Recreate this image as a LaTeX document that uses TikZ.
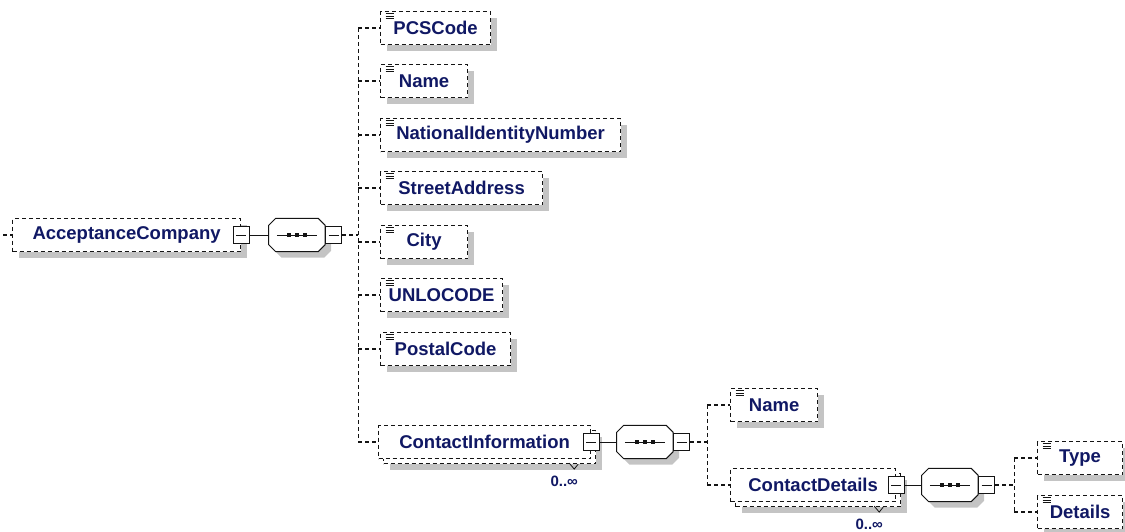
\documentclass[tikz,border=0pt]{standalone}
\usepackage{fontspec}
\setmainfont{Liberation Sans}
\usepackage{tikz}
\usetikzlibrary{shadows, positioning, calc}
\definecolor{mynavy}{RGB}{16,24,100}
\definecolor{myshade}{RGB}{196,196,196}
\definecolor{mydark}{RGB}{20,20,20}
\tikzset{
  elembox/.style={rectangle, draw=mydark, fill=white, line width=1.2pt,
    dash pattern=on 4pt off 3pt, minimum height=33pt, inner sep=0pt,
    text=mynavy, font=\fontsize{18.5}{20}\selectfont\bfseries, anchor=west,
    general shadow={shadow xshift=6pt, shadow yshift=-6pt, fill=myshade}},
  simpleelem/.style={elembox, path picture={
    \foreach \k in {2,4.5,7}
      \draw[solid, line width=0.8pt, mydark] ([xshift=5pt, yshift=-\k pt]path picture bounding box.north west) -- ++(8pt,0pt);}},
  multielem/.style={rectangle, draw=mydark, fill=white, line width=1.2pt,
    dash pattern=on 4pt off 3pt, minimum height=33pt, inner sep=0pt,
    text=mynavy, font=\fontsize{18.5}{20}\selectfont\bfseries, anchor=west,
    general shadow={shadow xshift=11pt, shadow yshift=-11pt, fill=myshade},
    general shadow={shadow xshift=5pt, shadow yshift=-5pt, fill=white,
      draw=mydark, line width=1.2pt, dash pattern=on 4pt off 3pt}},
  minusbox/.style={rectangle, draw=mydark, fill=white, line width=1pt,
    minimum width=16pt, minimum height=17pt, inner sep=0pt, path picture={
    \draw[line width=1pt, mydark] ([xshift=3pt]path picture bounding box.west) -- ([xshift=-3pt]path picture bounding box.east);}},
  seqnode/.style={rectangle, minimum width=56pt, minimum height=33pt, inner sep=0pt},
  seqline/.style={draw=mydark, fill=white, line width=1pt},
  link/.style={line width=1.1pt, color=mydark, dash pattern=on 4pt off 3pt},
  solidlink/.style={line width=1pt, color=mydark},
  occlabel/.style={text=mynavy, font=\fontsize{15}{17}\selectfont\bfseries, inner sep=0pt, anchor=north},
  occtick/.style={line width=0.8pt, color=mydark}
}
% octagon of a sequence compositor, drawn round the node #1
\newcommand{\seqoctagon}[1]{%
  \fill[myshade, transform canvas={shift={(6pt,-6pt)}}] ([xshift=7pt]#1.north west) -- ([xshift=-7pt]#1.north east) -- ([yshift=-7pt]#1.north east) -- ([yshift=7pt]#1.south east) -- ([xshift=-7pt]#1.south east) -- ([xshift=7pt]#1.south west) -- ([yshift=7pt]#1.south west) -- ([yshift=-7pt]#1.north west) -- cycle;
  \path[seqline] ([xshift=7pt]#1.north west) -- ([xshift=-7pt]#1.north east) -- ([yshift=-7pt]#1.north east) -- ([yshift=7pt]#1.south east) -- ([xshift=-7pt]#1.south east) -- ([xshift=7pt]#1.south west) -- ([yshift=7pt]#1.south west) -- ([yshift=-7pt]#1.north west) -- cycle;
  \draw[line width=1pt, mydark] ([xshift=-20pt]#1.center) -- ([xshift=20pt]#1.center);
  \foreach \d in {-8,0,8}
    \fill[mydark] ([xshift=\d pt]#1.center) +(-2pt,-2pt) rectangle +(2pt,2pt);
}

\begin{document}
\begin{tikzpicture}[x=1pt, y=-1pt]
  \useasboundingbox (0,0) rectangle (1125,531);

  % Root element
  \coordinate (root) at (3,235);
  \node[elembox, minimum width=228pt] (ac) at (12,235) {AcceptanceCompany};
  \draw[link] (root) -- (ac.west);
  \node[minusbox] (mA) at (ac.east) {};
  \node[seqnode, right=19pt of mA] (sqA) {};
  \seqoctagon{sqA}
  \node[minusbox, right=0pt of sqA] (mB) {};
  \coordinate[right=16pt of mB] (trA);
  \draw[solidlink] (mA) -- (sqA);
  \draw[link] (mB.east) -- (trA);

  % Children of the sequence
  \node[simpleelem, minimum width=110pt] (pcs) at (380,28) {PCSCode};
  \node[simpleelem, minimum width=87pt] (name) at (380,81) {Name};
  \node[simpleelem, minimum width=240pt] (nid) at (380,135) {NationalIdentityNumber};
  \node[simpleelem, minimum width=162pt] (street) at (380,188) {StreetAddress};
  \node[simpleelem, minimum width=87pt] (city) at (380,242) {City};
  \node[simpleelem, minimum width=122pt] (unlo) at (380,295) {UNLOCODE};
  \node[simpleelem, minimum width=130pt] (postal) at (380,349) {PostalCode};
  \node[multielem, minimum width=212pt] (ci) at (378,442) {ContactInformation};

  \draw[link] (trA |- pcs.west) -- (trA |- ci.west);
  \foreach \n in {pcs,name,nid,street,city,unlo,postal,ci}
    \draw[link] (trA |- \n.west) -- (\n.west);

  % ContactInformation content
  \node[minusbox] (mC) at (ci.east) {};
  \node[seqnode, right=17pt of mC] (sqB) {};
  \seqoctagon{sqB}
  \node[minusbox, right=0pt of sqB] (mD) {};
  \coordinate[right=17pt of mD] (trB);
  \draw[solidlink] (mC) -- (sqB);
  \draw[link] (mD.east) -- (trB);
  \node[occlabel] (occA) at ([xshift=-27pt, yshift=-17pt]ci.south east) {0..∞};
  \draw[occtick] ([xshift=-22pt, yshift=-4pt]ci.south east) -- ++(5pt,-6pt) -- ++(4pt,5pt);

  \node[simpleelem, minimum width=87pt] (name2) at (730,405) {Name};
  \node[multielem, minimum width=165pt] (cd) at (730,485) {ContactDetails};
  \draw[link] (trB |- name2.west) -- (trB |- cd.west);
  \foreach \n in {name2,cd}
    \draw[link] (trB |- \n.west) -- (\n.west);

  % ContactDetails content
  \node[minusbox] (mE) at (cd.east) {};
  \node[seqnode, right=17pt of mE] (sqC) {};
  \seqoctagon{sqC}
  \node[minusbox, right=0pt of sqC] (mF) {};
  \coordinate[right=19pt of mF] (trC);
  \draw[solidlink] (mE) -- (sqC);
  \draw[link] (mF.east) -- (trC);
  \node[occlabel] (occB) at ([xshift=-27pt, yshift=-17pt]cd.south east) {0..∞};
  \draw[occtick] ([xshift=-22pt, yshift=-4pt]cd.south east) -- ++(5pt,-6pt) -- ++(4pt,5pt);

  \node[simpleelem, minimum width=85pt] (type) at (1037,458) {Type};
  \node[simpleelem, minimum width=85pt] (details) at (1037,512) {Details};
  \draw[link] (trC |- type.west) -- (trC |- details.west);
  \foreach \n in {type,details}
    \draw[link] (trC |- \n.west) -- (\n.west);
\end{tikzpicture}
\end{document}
